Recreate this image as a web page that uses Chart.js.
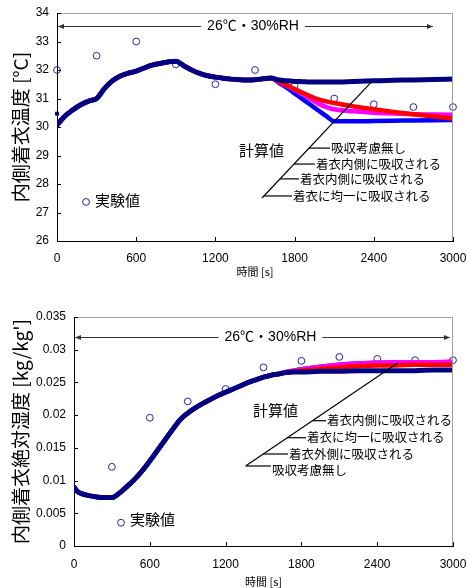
<!DOCTYPE html>
<html><head><meta charset="utf-8">
<script src="https://cdn.jsdelivr.net/npm/chart.js@4/dist/chart.umd.min.js"></script>
<style>
html,body{margin:0;padding:0;background:#fff;}
#w1{position:absolute;left:0;top:0;width:467px;height:290px;}
#w2{position:absolute;left:0;top:290px;width:467px;height:298px;}
</style></head><body>
<div id="w1"><canvas id="c1"></canvas></div>
<div id="w2"><canvas id="c2"></canvas></div>
<script>
// ---------- data: top chart (temperature) ----------
const timeTicks = [0, 600, 1200, 1800, 2400, 3000];
const tempTicks = [26, 27, 28, 29, 30, 31, 32, 33, 34];
const expTime = [0, 300, 600, 900, 1200, 1500, 1800, 2100, 2400, 2700, 3000];
const tempExp = [32.0, 32.5, 33.0, 32.2, 31.5, 32.0, 31.45, 31.0, 30.8, 30.7, 30.7];
const tempInitTime = [0];
const tempInit = [30.47];
const tempTimeShared = [0,60,120,180,240,300,360,420,480,540,600,660,720,780,840,900,960,1020,1080,1140,1200,1260,1320,1380,1440,1500,1560,1620];
const tempShared = [30.07,30.38,30.6,30.78,30.91,31.0,31.35,31.62,31.79,31.89,31.96,32.07,32.17,32.23,32.28,32.31,32.15,32.0,31.88,31.8,31.75,31.71,31.68,31.66,31.65,31.66,31.69,31.72];
const tempTimeTail = [1680,1740,1800,1860,1920,1980,2040,2100,2250,2400,2550,2700,2850,3000];
const tempNoAbsTail   = [31.65,31.62,31.6,31.59,31.58,31.58,31.58,31.58,31.6,31.62,31.64,31.65,31.67,31.68];
const tempBlueTail    = [31.55,31.38,31.18,30.98,30.78,30.58,30.38,30.2,30.2,30.21,30.22,30.23,30.24,30.25];
const tempMagentaTail = [31.58,31.45,31.3,31.15,30.98,30.82,30.7,30.62,30.55,30.5,30.47,30.45,30.44,30.43];
const tempRedTail     = [31.6,31.47,31.33,31.2,31.08,30.97,30.9,30.84,30.72,30.62,30.53,30.45,30.37,30.3];
const tempLabels = ['吸収考慮無し', '着衣内側に吸収される', '着衣内側に吸収される', '着衣に均一に吸収される'];

// ---------- data: bottom chart (absolute humidity) ----------
const humTicks = [0, 0.005, 0.01, 0.015, 0.02, 0.025, 0.03, 0.035];
const humExpTime = [300, 600, 900, 1200, 1500, 1800, 2100, 2400, 2700, 3000];
const humExp = [0.0121, 0.0196, 0.0221, 0.0240, 0.0273, 0.0283, 0.0289, 0.0286, 0.0284, 0.0284];
const humTimeShared = [0,30,60,120,180,240,300,360,420,480,540,600,660,720,780,840,900,960,1020,1080,1140,1200,1260,1320,1380,1440,1500,1560];
const humShared = [0.0090,0.0083,0.0080,0.0077,0.0075,0.0074,0.0074,0.0081,0.0091,0.0102,0.0115,0.0130,0.0146,0.0162,0.0178,0.0193,0.0203,0.0211,0.0218,0.0224,0.0230,0.0235,0.0240,0.0245,0.0250,0.0254,0.0258,0.0261];
const humTimeTail = [1620,1680,1740,1800,1950,2100,2250,2400,2550,2700,2850,3000];
const humNoAbsTail   = [0.0263,0.0265,0.0266,0.0266,0.0267,0.0267,0.0268,0.0268,0.0268,0.0268,0.0269,0.0269];
const humBlueTail    = [0.0263,0.0266,0.0268,0.0270,0.0274,0.0277,0.0279,0.0280,0.0280,0.0280,0.0280,0.0280];
const humMagentaTail = [0.0263,0.0266,0.0268,0.0270,0.0274,0.0277,0.0279,0.0280,0.0281,0.0281,0.0281,0.0282];
const humRedTail     = [0.0263,0.0265,0.0267,0.0268,0.0271,0.0273,0.0275,0.0276,0.0276,0.0277,0.0277,0.0277];
const humLabels = ['着衣内側に吸収される', '着衣に均一に吸収される', '着衣外側に吸収される', '吸収考慮無し'];

// ---------- helpers ----------
const JP = '"Noto Sans CJK JP", sans-serif';
const LAT = '"Liberation Sans", Arial, "Noto Sans CJK JP", sans-serif';
const pts = (xs, ys) => xs.map((x, i) => ({x: x, y: ys[i]}));
const NAVY = '#000080', BLUE = '#0000ff', MAG = '#ff00ff', RED = '#ff0000', CIRC = '#2424a8';

function lineDs(data, color, w) {
  return {type: 'line', data: data, borderColor: color, backgroundColor: color, borderWidth: w,
    pointRadius: 0, cubicInterpolationMode: 'monotone', fill: false, borderCapStyle: 'round', borderJoinStyle: 'round'};
}
function expDs(data) {
  return {type: 'scatter', data: data, showLine: false, pointStyle: 'circle', pointRadius: 3.4, clip: false,
    borderColor: CIRC, backgroundColor: 'rgba(255,255,255,0)', pointBorderWidth: 1, borderWidth: 1};
}

function seg(ctx, x1, y1, x2, y2) { ctx.beginPath(); ctx.moveTo(x1, y1); ctx.lineTo(x2, y2); ctx.stroke(); }
function head(ctx, x, y, dir) {
  ctx.beginPath(); ctx.moveTo(x, y); ctx.lineTo(x - dir * 6, y - 2.5); ctx.lineTo(x - dir * 6, y + 2.5); ctx.closePath(); ctx.fill();
}

const notesPlugin = {
  id: 'notes',
  afterDatasetsDraw(chart, args, o) {
    const ctx = chart.ctx, ca = chart.chartArea, xs = chart.scales.x, ys = chart.scales.y;
    const X = v => xs.getPixelForValue(v), Y = v => ys.getPixelForValue(v);
    ctx.save();
    ctx.lineWidth = 1;
    // plot frame top/right
    ctx.strokeStyle = '#a0a0a0';
    seg(ctx, ca.left, ca.top + 0.5, ca.right - 0.5, ca.top + 0.5);
    seg(ctx, ca.right - 0.5, ca.top, ca.right - 0.5, ca.bottom);
    // inward tick marks
    ctx.strokeStyle = '#000';
    xs.ticks.forEach(t => { const x = Math.round(X(t.value)) + 0.5; seg(ctx, x, ca.bottom, x, ca.bottom - 4); });
    ys.ticks.forEach(t => { const y = Math.round(Y(t.value)) + 0.5; seg(ctx, ca.left, y, ca.left + 4, y); });
    // header with arrows
    const hy = Math.round(Y(o.headerY)) + 0.5, hc = X(o.headerCenter);
    ctx.font = '14px ' + LAT;
    const tw = ctx.measureText(o.headerText).width;
    ctx.fillStyle = '#000'; ctx.textAlign = 'center'; ctx.textBaseline = 'middle';
    ctx.fillText(o.headerText, hc, hy);
    ctx.strokeStyle = '#333'; ctx.fillStyle = '#333';
    seg(ctx, ca.left + 1, hy, hc - tw / 2 - 6, hy); head(ctx, ca.left + 1, hy, -1);
    const hr = X(o.headerRight);
    seg(ctx, hc + tw / 2 + 6, hy, hr, hy); head(ctx, hr, hy, 1);
    // 計算値 block
    ctx.fillStyle = '#000'; ctx.textAlign = 'left';
    ctx.font = '15px ' + JP;
    ctx.fillText('計算値', X(o.calc[0]), Y(o.calc[1]));
    const x1 = X(o.diag[0]), y1 = Y(o.diag[1]), x2 = X(o.diag[2]), y2 = Y(o.diag[3]);
    ctx.strokeStyle = '#000'; ctx.lineWidth = 1.2;
    seg(ctx, x1, y1, x2, y2);
    ctx.font = '12.5px ' + JP;
    o.rows.forEach((r, i) => {
      const ly = Y(r.ly !== undefined ? r.ly : r.y);
      const dx = x1 + (x2 - x1) * (ly - y1) / (y2 - y1);
      const tx = X(r.x);
      seg(ctx, dx, ly, tx - 1, ly);
      ctx.fillText(o.labels[i], tx, Y(r.y));
    });
    // 実験値 marker
    ctx.lineWidth = 1; ctx.strokeStyle = CIRC;
    ctx.beginPath(); ctx.arc(X(o.exp[0]), Y(o.exp[1]), 3.4, 0, Math.PI * 2); ctx.stroke();
    ctx.font = '15px ' + JP; ctx.fillStyle = '#000';
    ctx.fillText('実験値', X(o.exp[2]), Y(o.exp[3]));
    ctx.restore();
  }
};

function scalesFor(yMin, yMax, yStep, yTitle, yWidth, xHeight, xPad, xTitlePad, yFmt) {
  return {
    x: {type: 'linear', min: 0, max: 3000,
      afterBuildTicks: s => { s.ticks = timeTicks.map(v => ({value: v})); },
      ticks: {padding: xPad, color: '#000', font: {family: LAT, size: 12}, maxRotation: 0, autoSkip: false,
        callback: v => String(v)},
      grid: {display: false, drawTicks: false}, border: {display: true, color: '#000', width: 1},
      title: {display: true, text: '時間 [s]', color: '#000', font: {family: JP, size: 11}, padding: {top: 0, bottom: xTitlePad}},
      afterFit: s => { s.height = xHeight; s.paddingLeft = 0; s.paddingRight = 0; }},
    y: {type: 'linear', min: yMin, max: yMax,
      ticks: {stepSize: yStep, padding: 8, color: '#000', font: {family: LAT, size: 12}, callback: yFmt},
      grid: {display: false, drawTicks: false}, border: {display: true, color: '#000', width: 1},
      title: {display: true, text: yTitle, color: '#000', font: {family: JP, size: 19}, padding: {top: 9, bottom: 0}},
      afterFit: s => { s.width = yWidth; s.paddingTop = 0; s.paddingBottom = 0; }}
  };
}

const common = {responsive: true, maintainAspectRatio: false, animation: false, devicePixelRatio: 1,
  events: []};

new Chart(document.getElementById('c1'), {
  data: {datasets: [
    lineDs(pts(tempTimeShared.concat(tempTimeTail), tempShared.concat(tempNoAbsTail)), NAVY, 5),
    lineDs(pts(tempTimeShared.concat(tempTimeTail), tempShared.concat(tempRedTail)), RED, 4.5),
    lineDs(pts(tempTimeShared.concat(tempTimeTail), tempShared.concat(tempMagentaTail)), MAG, 4.5),
    lineDs(pts(tempTimeShared.concat(tempTimeTail), tempShared.concat(tempBlueTail)), BLUE, 4.5),
    {type: 'scatter', data: pts(tempInitTime, tempInit), pointStyle: 'rect', pointRadius: 2.2, clip: false, backgroundColor: NAVY, borderColor: NAVY},
    expDs(pts(expTime, tempExp))
  ]},
  options: Object.assign({}, common, {
    layout: {padding: {left: 0, right: 14, top: 13, bottom: 0}},
    scales: scalesFor(26, 34, 1, '内側着衣温度 [°C]', 57, 49, 10, 12, v => String(v)),
    plugins: {legend: {display: false}, tooltip: {enabled: false},
      notes: {headerText: '26℃・30%RH', headerY: 33.55, headerCenter: 1485, headerRight: 2848,
        calc: [1379, 29.17], diag: [2386, 31.6, 1553, 27.51], labels: tempLabels,
        rows: [{x: 2076, y: 29.26}, {x: 1962, y: 28.70}, {x: 1841, y: 28.18}, {x: 1788, y: 27.58}],
        exp: [220, 27.37, 288, 27.42]}}
  }),
  plugins: [notesPlugin]
});

new Chart(document.getElementById('c2'), {
  data: {datasets: [
    lineDs(pts(humTimeShared.concat(humTimeTail), humShared.concat(humNoAbsTail)), NAVY, 5),
    lineDs(pts(humTimeShared.concat(humTimeTail), humShared.concat(humRedTail)), RED, 4.5),
    lineDs(pts(humTimeShared.concat(humTimeTail), humShared.concat(humMagentaTail)), MAG, 4.5),
    lineDs(pts(humTimeShared.concat(humTimeTail), humShared.concat(humBlueTail)), BLUE, 4.5),
    expDs(pts(humExpTime, humExp))
  ]},
  options: Object.assign({}, common, {
    layout: {padding: {left: 0, right: 14, top: 27, bottom: 0}},
    scales: scalesFor(0, 0.035, 0.005, '内側着衣絶対湿度 [kg/kg\']', 74, 42, 11, 0, v => String(Number(v.toFixed(3)))),
    plugins: {legend: {display: false}, tooltip: {enabled: false},
      notes: {headerText: '26℃・30%RH', headerY: 0.0320, headerCenter: 1555, headerRight: 2976,
        calc: [1417, 0.02068], diag: [2565, 0.02801, 1361, 0.01227], labels: humLabels,
        rows: [{x: 2003, y: 0.01915}, {x: 1844, y: 0.01655}, {x: 1702, y: 0.01406}, {x: 1567, y: 0.01162, ly: 0.01223}],
        exp: [372, 0.00356, 443, 0.00413]}}
  }),
  plugins: [notesPlugin]
});
</script>
</body></html>
